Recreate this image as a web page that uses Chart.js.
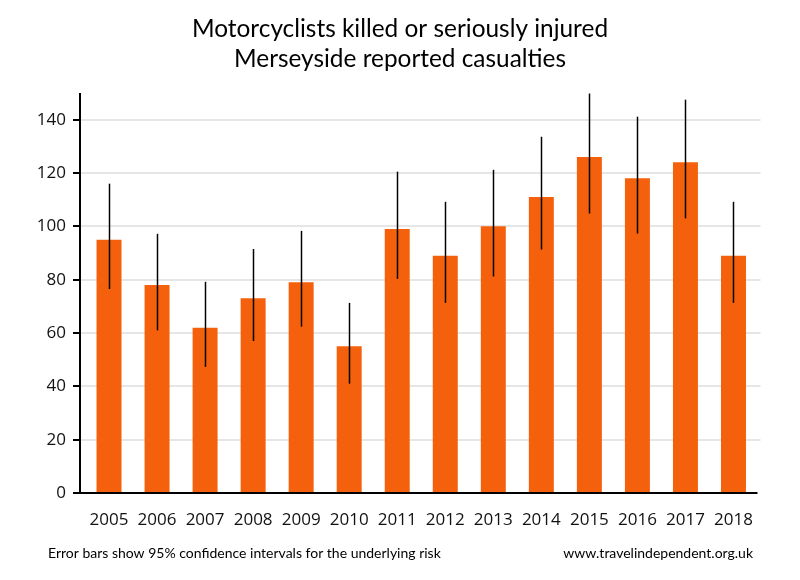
<!DOCTYPE html>
<html>
<head>
<meta charset="utf-8">
<script src="https://cdn.jsdelivr.net/npm/chart.js@4.4.1/dist/chart.umd.min.js"></script>
<style>
html,body{margin:0;padding:0;background:#fff;}
#wrap{position:relative;width:800px;height:580px;}
</style>
</head>
<body>
<div id="wrap"><canvas id="c" width="800" height="580"></canvas></div>
<script>
const years = ['2005','2006','2007','2008','2009','2010','2011','2012','2013','2014','2015','2016','2017','2018'];
const casualties = [95, 78, 62, 73, 79, 55, 99, 89, 100, 111, 126, 118, 124, 89];
const ciLower = [76.5, 61, 47.3, 57, 62.4, 41, 80.3, 71.3, 81.2, 91.3, 104.8, 97.3, 103, 71.3];
const ciUpper = [116, 97.2, 79.2, 91.5, 98.3, 71.3, 120.5, 109.2, 121.2, 133.6, 149.8, 141.1, 147.5, 109.2];
const yTicks = [0, 20, 40, 60, 80, 100, 120, 140];
const titleLines = ['Motorcyclists killed or seriously injured', 'Merseyside reported casualties'];
const footLeft = 'Error bars show 95% confidence intervals for the underlying risk';
const footRight = 'www.travelindependent.org.uk';

const BAR = 'rgb(244,96,12)';

const decor = {
  id: 'decor',
  beforeDatasetsDraw(chart) {
    const ctx = chart.ctx, a = chart.chartArea, y = chart.scales.y;
    ctx.save();
    ctx.strokeStyle = '#e6e6e6';
    ctx.lineWidth = 2;
    yTicks.forEach(v => {
      if (v === 0) return;
      const py = Math.round(y.getPixelForValue(v));
      ctx.beginPath();
      ctx.moveTo(a.left - 5, py);
      ctx.lineTo(a.right + 3, py);
      ctx.stroke();
    });
    ctx.restore();
  },
  afterDatasetsDraw(chart) {
    const ctx = chart.ctx, a = chart.chartArea, y = chart.scales.y, x = chart.scales.x;
    ctx.save();
    // error bars
    ctx.strokeStyle = '#000';
    ctx.lineWidth = 1.5;
    years.forEach((yr, i) => {
      const px = Math.round(x.getPixelForValue(i)) + 0.5;
      ctx.beginPath();
      ctx.moveTo(px, y.getPixelForValue(ciLower[i]));
      ctx.lineTo(px, y.getPixelForValue(Math.min(ciUpper[i], 150)));
      ctx.stroke();
    });
    // axes
    ctx.lineWidth = 2;
    const ax = a.left - 5;
    ctx.beginPath();
    ctx.moveTo(ax, a.top);
    ctx.lineTo(ax, a.bottom + 1);
    ctx.stroke();
    ctx.beginPath();
    ctx.moveTo(ax - 1, a.bottom);
    ctx.lineTo(a.right, a.bottom);
    ctx.stroke();
    yTicks.forEach(v => {
      const py = Math.round(y.getPixelForValue(v));
      ctx.beginPath();
      ctx.moveTo(ax - 7, py);
      ctx.lineTo(ax, py);
      ctx.stroke();
    });
    ctx.restore();
  },
  afterDraw(chart) {
    const ctx = chart.ctx;
    ctx.save();
    ctx.fillStyle = '#000';
    ctx.textAlign = 'center';
    ctx.textBaseline = 'alphabetic';
    ctx.font = '24.4px Lato';
    ctx.fillText(titleLines[0], 400, 37);
    ctx.fillText(titleLines[1], 400, 67);
    ctx.font = '14px Lato';
    ctx.textAlign = 'left';
    ctx.fillText(footLeft, 48, 558);
    ctx.textAlign = 'right';
    ctx.fillText(footRight, 753, 558);
    ctx.restore();
  }
};

new Chart(document.getElementById('c'), {
  type: 'bar',
  data: {
    labels: years,
    datasets: [{
      data: casualties,
      backgroundColor: BAR,
      borderWidth: 0,
      barPercentage: 0.52,
      categoryPercentage: 1.0
    }]
  },
  options: {
    responsive: false,
    animation: false,
    devicePixelRatio: 1,
    layout: { padding: { top: 93, right: 42.5, bottom: 0, left: 0 } },
    plugins: { legend: { display: false }, title: { display: false }, tooltip: { enabled: false } },
    scales: {
      x: {
        offset: true,
        grid: { display: false, drawTicks: false },
        border: { display: false },
        ticks: { color: '#111', font: { family: 'Open Sans', size: 17 }, padding: 17, maxRotation: 0, autoSkip: false },
        afterFit(s) { s.height = 87; }
      },
      y: {
        min: 0, max: 150,
        afterBuildTicks(s) { s.ticks = yTicks.map(v => ({ value: v })); },
        grid: { display: false, drawTicks: false },
        border: { display: false },
        ticks: { color: '#111', font: { family: 'Open Sans', size: 17 }, padding: 19 },
        afterFit(s) { s.width = 85; }
      }
    }
  },
  plugins: [decor]
});
</script>
</body>
</html>
